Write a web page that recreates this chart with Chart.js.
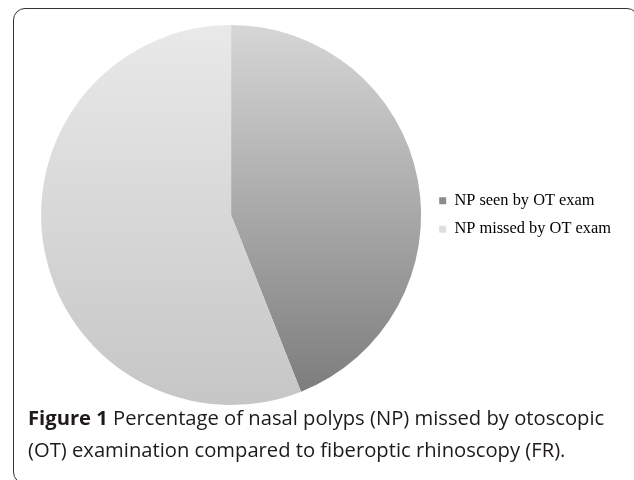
<!DOCTYPE html>
<html>
<head>
<meta charset="utf-8">
<script src="https://cdn.jsdelivr.net/npm/chart.js@4.4.1/dist/chart.umd.min.js"></script>
<style>
    html, body { margin: 0; padding: 0; background: #ffffff; }
    #quadro {
        position: absolute; left: 13px; top: 8px; width: 626px; height: 476px;
        border: 1.5px solid #333333; border-radius: 12px; box-sizing: border-box;
    }
    #grafico-wrap { position: absolute; left: 0; top: 0; width: 634px; height: 480px; }
    #legenda-figura {
        position: absolute; left: 28px; top: 401px; width: 606px; white-space: nowrap;
        font-family: "Open Sans", "Noto Sans", sans-serif; font-size: 20.2px; line-height: 32px;
        color: #1e1a1b;
    }
    #legenda-figura b { font-weight: bold; }
</style>
</head>
<body>
<div id="quadro"></div>
<div id="grafico-wrap"><canvas id="grafico-pizza" width="634" height="480"></canvas></div>
<div id="legenda-figura"><b>Figure 1</b> Percentage of nasal polyps (NP) missed by otoscopic<br>(OT) examination compared to fiberoptic rhinoscopy (FR).</div>
<script>
// dados (percentagens estimadas)
const categorias = ['NP seen by OT exam', 'NP missed by OT exam'];
const valores = [44, 56];

// cores: topo e base do degradê de cada fatia, e cor sólida da legenda
const coresTopo = ['#d6d6d6', '#e9e9e9'];
const coresBase = ['#7a7a7a', '#c6c6c6'];
const coresLegenda = ['#8c8c8c', '#dedede'];

function corDegrade(context) {
    const chart = context.chart;
    const area = chart.chartArea;
    if (!area) return coresTopo[context.dataIndex];
    const g = chart.ctx.createLinearGradient(0, area.top, 0, area.bottom);
    g.addColorStop(0, coresTopo[context.dataIndex]);
    g.addColorStop(1, coresBase[context.dataIndex]);
    return g;
}

const canvas = document.getElementById('grafico-pizza');
new Chart(canvas, {
    type: 'pie',
    data: {
        labels: categorias,
        datasets: [{
            data: valores,
            backgroundColor: corDegrade,
            borderWidth: 0
        }]
    },
    options: {
        responsive: false,
        animation: false,
        layout: { padding: { left: 35, right: 13, top: 25, bottom: 75 } },
        plugins: {
            tooltip: { enabled: false },
            legend: {
                position: 'right',
                labels: {
                    boxWidth: 7,
                    boxHeight: 7,
                    padding: 12,
                    color: '#222222',
                    font: { family: '"Liberation Serif", "Times New Roman", serif', size: 16.4 },
                    generateLabels: function(chart) {
                        return chart.data.labels.map((label, i) => ({
                            text: label,
                            fillStyle: coresLegenda[i],
                            strokeStyle: coresLegenda[i],
                            lineWidth: 0,
                            hidden: false,
                            index: i
                        }));
                    }
                }
            }
        }
    }
});
</script>
</body>
</html>
